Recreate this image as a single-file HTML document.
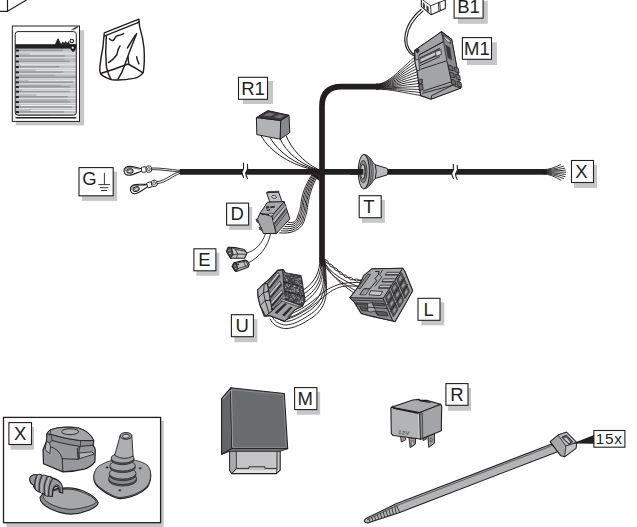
<!DOCTYPE html>
<html><head><meta charset="utf-8"><title>Wiring kit</title>
<style>
html,body{margin:0;padding:0;background:#fff;}
body{width:637px;height:527px;overflow:hidden;font-family:"Liberation Sans",sans-serif;}
svg{display:block;font-family:"Liberation Sans",sans-serif;}
</style></head><body>
<svg width="637" height="527" viewBox="0 0 637 527">
<rect width="637" height="527" fill="#fff"/>
<g fill="none" stroke="#231f20" stroke-width="1.2"><path d="M0 11.3 H7.5 V0 M7.5 11.3 L26.5 0"/></g>
<g fill="none" stroke="#231f20" stroke-linecap="butt"><path d="M179.7 171.85 H545" stroke-width="5.7"/><path d="M322 259 V106 Q322 86.6 341.5 86.6 H378" stroke-width="5.7"/></g>
<path d="M243.60 167.50 L243.60 168.30 Q243.40 169.80 241.90 171.80 Q242.00 174.40 243.20 176.40 L246.90 177.40 Q245.80 175.40 245.70 172.80 Q247.40 170.40 247.60 168.60 L247.60 167.50 Z" fill="#fff"/><path d="M243.50 163.10 L243.60 168.30 Q243.40 169.80 241.90 171.80 Q242.00 174.40 243.70 177.40 M247.45 164.30 L247.60 168.60 Q247.40 170.40 245.70 172.80 Q245.80 175.40 247.40 178.40" fill="none" stroke="#231f20" stroke-width="1.1" stroke-linecap="round"/>
<path d="M453.40 168.60 L453.40 169.40 Q453.20 170.90 451.70 172.90 Q451.80 175.50 453.00 177.50 L456.70 178.50 Q455.60 176.50 455.50 173.90 Q457.20 171.50 457.40 169.70 L457.40 168.60 Z" fill="#fff"/><path d="M453.30 164.20 L453.40 169.40 Q453.20 170.90 451.70 172.90 Q451.80 175.50 453.50 178.50 M457.25 165.40 L457.40 169.70 Q457.20 171.50 455.50 173.90 Q455.60 176.50 457.20 179.50" fill="none" stroke="#231f20" stroke-width="1.1" stroke-linecap="round"/>
<rect x="243.00" y="81.00" width="30.00" height="23.00" fill="#c5c6c8"/><rect x="238.5" y="77.3" width="29" height="22" fill="#fff" stroke="#231f20" stroke-width="1.1"/><text x="253.00" y="94.65" font-size="18.5" text-anchor="middle" fill="#231f20">R1</text>
<rect x="457.80" y="0.80" width="30.00" height="23.00" fill="#c5c6c8"/><rect x="454.1" y="-3.9" width="29" height="22" fill="#fff" stroke="#231f20" stroke-width="1.1"/><text x="468.60" y="13.45" font-size="18.5" text-anchor="middle" fill="#231f20">B1</text>
<rect x="466.90" y="42.30" width="30.10" height="22.70" fill="#c5c6c8"/><rect x="462.4" y="37.6" width="29.1" height="21.7" fill="#fff" stroke="#231f20" stroke-width="1.1"/><text x="476.95" y="54.65" font-size="18.5" text-anchor="middle" fill="#231f20">M1</text>
<rect x="574.00" y="165.00" width="23.00" height="23.00" fill="#c5c6c8"/><rect x="571.5" y="160.5" width="22" height="22" fill="#fff" stroke="#231f20" stroke-width="1.1"/><text x="581.50" y="177.85" font-size="18.5" text-anchor="middle" fill="#231f20">X</text>
<rect x="361.90" y="199.80" width="23.00" height="23.00" fill="#c5c6c8"/><rect x="359.2" y="195.7" width="22" height="22" fill="#fff" stroke="#231f20" stroke-width="1.1"/><text x="369.00" y="213.05" font-size="18.5" text-anchor="middle" fill="#231f20">T</text>
<rect x="229.10" y="206.90" width="23.00" height="23.00" fill="#c5c6c8"/><rect x="226.6" y="203.1" width="22" height="22" fill="#fff" stroke="#231f20" stroke-width="1.1"/><text x="237.30" y="220.45" font-size="18.5" text-anchor="middle" fill="#231f20">D</text>
<rect x="196.40" y="252.80" width="23.00" height="23.00" fill="#c5c6c8"/><rect x="193.9" y="248.8" width="22" height="22" fill="#fff" stroke="#231f20" stroke-width="1.1"/><text x="204.30" y="266.15" font-size="18.5" text-anchor="middle" fill="#231f20">E</text>
<rect x="234.40" y="319.20" width="23.00" height="23.00" fill="#c5c6c8"/><rect x="231.4" y="314.7" width="22" height="22" fill="#fff" stroke="#231f20" stroke-width="1.1"/><text x="242.10" y="332.05" font-size="18.5" text-anchor="middle" fill="#231f20">U</text>
<rect x="421.30" y="302.30" width="23.00" height="23.00" fill="#c5c6c8"/><rect x="418" y="298.3" width="22" height="22" fill="#fff" stroke="#231f20" stroke-width="1.1"/><text x="428.60" y="315.65" font-size="18.5" text-anchor="middle" fill="#231f20">L</text>
<rect x="296.80" y="391.70" width="23.30" height="23.00" fill="#c5c6c8"/><rect x="294.6" y="387.6" width="22.3" height="22" fill="#fff" stroke="#231f20" stroke-width="1.1"/><text x="305.10" y="404.95" font-size="18.5" text-anchor="middle" fill="#231f20">M</text>
<rect x="447.90" y="388.00" width="23.10" height="22.70" fill="#c5c6c8"/><rect x="445.9" y="383.6" width="22.1" height="21.7" fill="#fff" stroke="#231f20" stroke-width="1.1"/><text x="456.95" y="400.65" font-size="18.5" text-anchor="middle" fill="#231f20">R</text>
<rect x="81.90" y="171.70" width="35.20" height="29.20" fill="#c5c6c8"/><rect x="79" y="167.6" width="34.2" height="28.2" fill="#fff" stroke="#231f20" stroke-width="1.1"/><text x="89.40" y="184.60" font-size="18.5" text-anchor="middle" fill="#231f20">G</text><g stroke="#3b393a" stroke-width="1" fill="none"><path d="M104.4 172.9 V184.6 M98.3 184.6 H110 M100 187.7 H108.3 M101.2 190.5 H107.1"/></g>
<rect x="6.5" y="421" width="157.2" height="106" fill="#c5c6c8"/>
<rect x="3.5" y="417.4" width="157.1" height="105.3" fill="#fff" stroke="#231f20" stroke-width="1.3"/>
<rect x="10.50" y="426.80" width="23.60" height="22.90" fill="#c5c6c8"/><rect x="8.9" y="422.6" width="22.6" height="21.9" fill="#fff" stroke="#231f20" stroke-width="1.1"/><text x="20.20" y="439.85" font-size="18.5" text-anchor="middle" fill="#231f20">X</text>
<rect x="15.8" y="30.3" width="68.3" height="95.1" fill="#c5c6c8"/>
<rect x="12.3" y="26" width="67.2" height="95.4" fill="#fff" stroke="#231f20" stroke-width="1"/>
<clipPath id="dc"><rect x="15.2" y="31.6" width="61.1" height="83.6" rx="2.8"/></clipPath><g clip-path="url(#dc)"><rect x="15.6" y="48" width="60.4" height="68" fill="#bdbec0"/><rect x="19" y="49.70" width="44.0" height="1.5" fill="#97989a"/><rect x="19" y="51.70" width="57.5" height="0.9" fill="#e6e7e8"/><rect x="29.9" y="53.50" width="60" height="1" fill="#f2f2f2"/><rect x="15.6" y="49.60" width="3.4" height="2" rx="0.9" fill="#231f20"/><rect x="19" y="55.20" width="46.3" height="1.5" fill="#97989a"/><rect x="19" y="57.20" width="57.5" height="0.9" fill="#e6e7e8"/><rect x="19" y="58.70" width="45.1" height="1.2" fill="#a6a7a9"/><rect x="15.6" y="55.10" width="3.4" height="2" rx="0.9" fill="#231f20"/><rect x="19" y="60.60" width="50.6" height="1.5" fill="#97989a"/><rect x="19" y="62.60" width="57.5" height="0.9" fill="#e6e7e8"/><rect x="20.3" y="64.40" width="60" height="1" fill="#f2f2f2"/><rect x="15.6" y="60.50" width="3.4" height="2" rx="0.9" fill="#231f20"/><rect x="19" y="66.00" width="40.2" height="1.5" fill="#97989a"/><rect x="19" y="68.00" width="57.5" height="0.9" fill="#e6e7e8"/><rect x="35.7" y="69.80" width="60" height="1" fill="#f2f2f2"/><rect x="15.6" y="65.90" width="3.4" height="2" rx="0.9" fill="#231f20"/><rect x="19" y="71.30" width="44.4" height="1.5" fill="#97989a"/><rect x="19" y="73.30" width="57.5" height="0.9" fill="#e6e7e8"/><rect x="19" y="74.80" width="35.9" height="1.2" fill="#a6a7a9"/><rect x="15.6" y="71.20" width="3.4" height="2" rx="0.9" fill="#231f20"/><rect x="19" y="76.50" width="56.9" height="1.5" fill="#97989a"/><rect x="19" y="78.50" width="57.5" height="0.9" fill="#e6e7e8"/><rect x="28.4" y="80.30" width="60" height="1" fill="#f2f2f2"/><rect x="15.6" y="76.40" width="3.4" height="2" rx="0.9" fill="#231f20"/><rect x="19" y="81.40" width="54.2" height="1.5" fill="#97989a"/><rect x="19" y="83.40" width="57.5" height="0.9" fill="#e6e7e8"/><rect x="19" y="84.90" width="41.9" height="1.2" fill="#a6a7a9"/><rect x="15.6" y="81.30" width="3.4" height="2" rx="0.9" fill="#231f20"/><rect x="19" y="86.00" width="50.9" height="1.5" fill="#97989a"/><rect x="19" y="88.00" width="57.5" height="0.9" fill="#e6e7e8"/><rect x="22.0" y="89.80" width="60" height="1" fill="#f2f2f2"/><rect x="15.6" y="85.90" width="3.4" height="2" rx="0.9" fill="#231f20"/><rect x="19" y="90.80" width="50.8" height="1.5" fill="#97989a"/><rect x="19" y="92.80" width="57.5" height="0.9" fill="#e6e7e8"/><rect x="36.4" y="94.60" width="60" height="1" fill="#f2f2f2"/><rect x="15.6" y="90.70" width="3.4" height="2" rx="0.9" fill="#231f20"/><rect x="19" y="96.00" width="48.9" height="1.5" fill="#97989a"/><rect x="19" y="98.00" width="57.5" height="0.9" fill="#e6e7e8"/><rect x="19" y="99.50" width="48.5" height="1.2" fill="#a6a7a9"/><rect x="15.6" y="95.90" width="3.4" height="2" rx="0.9" fill="#231f20"/><rect x="19" y="101.20" width="51.4" height="1.5" fill="#97989a"/><rect x="19" y="103.20" width="57.5" height="0.9" fill="#e6e7e8"/><rect x="20.3" y="105.00" width="60" height="1" fill="#f2f2f2"/><rect x="15.6" y="101.10" width="3.4" height="2" rx="0.9" fill="#231f20"/><rect x="19" y="106.20" width="52.9" height="1.5" fill="#97989a"/><rect x="19" y="108.20" width="57.5" height="0.9" fill="#e6e7e8"/><rect x="30.8" y="110.00" width="60" height="1" fill="#f2f2f2"/><rect x="15.6" y="106.10" width="3.4" height="2" rx="0.9" fill="#231f20"/><rect x="19" y="111.15" width="45.1" height="1.5" fill="#97989a"/><rect x="19" y="113.15" width="57.5" height="0.9" fill="#e6e7e8"/><rect x="19" y="114.65" width="30.8" height="1.2" fill="#a6a7a9"/><rect x="15.6" y="111.05" width="3.4" height="2" rx="0.9" fill="#231f20"/></g><rect x="15.2" y="44.2" width="61.1" height="4.4" fill="#231f20"/><rect x="15.2" y="31.6" width="61.1" height="83.6" rx="2.8" fill="none" stroke="#231f20" stroke-width="1"/><path d="M15.5 117.8 H76.3" stroke="#231f20" stroke-width="1.5"/><g fill="#231f20" stroke="#231f20" stroke-width="0.6" stroke-linejoin="round"><path d="M55.2 45 L58 38.8 L61 45 Z" stroke-width="1"/><path d="M49 45.5 H62" stroke-width="1"/><path d="M61.5 44.6 L62.8 42.2 L64.2 44.6 L65.6 41.8 L67 44.8 L68.6 42 L69.4 44.8" fill="none" stroke-width="1.2"/><circle cx="71.8" cy="41" r="1.7" fill="#fff" stroke-width="1.1"/><path d="M67.5 44.6 L75 44.6 L75.2 49.5 Q74.5 52 72.5 51.4 L70.2 48 Z"/><circle cx="72.7" cy="47.7" r="1" fill="#fff" stroke="none"/></g><path d="M71.5 29.8 L77.3 26.6 L77.6 27.6 L73.8 29.6 Z" fill="#231f20" stroke="#231f20" stroke-width="0.4"/>
<g fill="none" stroke="#231f20" stroke-width="1.45" stroke-linejoin="round" stroke-linecap="round"><path d="M104.3 32.9 L138.9 19.2 L139.6 26.4 Q143 38 144 48 Q145 62 143.2 72.6 Q140 77 133.8 78.4 Q122 80.6 112.2 79.8 Q104 77.5 100.7 74 Q99.2 71 99.9 66.8 Q101 56 102.8 48 Z" fill="#fff"/><path d="M104.8 35.9 L139.3 22.2"/><path d="M106.4 35.8 Q105 52 106.4 66.8 Q108 74 110.8 79.1"/><path d="M101.4 73.3 Q114 69.5 128 64 Q136 68 142.5 72.6"/><path d="M136.7 33.6 Q130 50 124.5 65.4 Q122 73 118 79.1"/><path d="M135.3 35.1 L127.4 48"/><path d="M109.3 38.7 Q112 41.5 113.6 40.1 Q115.5 36.5 117.3 35.8 Q121 35 123.7 33.6"/><path d="M120.1 45.9 Q118 49 117.5 52 Q117.2 54 116.5 55.3 Q113 60 108.6 62.5"/><path d="M136.7 56.7 Q137 60 138.9 63.9 M128.1 56.7 Q128 60 128.8 63.2"/></g>
<g fill="none" stroke="#231f20" stroke-width="0.9"><path d="M151.5 168 C160 167.8 170 169.2 180 170.4"/><path d="M151.5 169.6 C160 169.6 170 171 180 172"/><path d="M156.5 181.8 C166 180.5 172 173.5 180 171.6"/><path d="M157 183.6 C167 182.5 173 175.5 180 173.4"/></g>
<g transform="translate(129.6 170.8) rotate(-5)"><path d="M-5.6 0 C-5.6 -3.6 -2.5 -4.6 0.5 -4.4 C4 -4.1 8 -2.2 12.3 -1.2 L12.3 1.2 C8 2.2 4 4.1 0.5 4.4 C-2.5 4.6 -5.6 3.6 -5.6 0 Z" fill="#fff" stroke="#231f20" stroke-width="1.1"/><path d="M-4.4 0 C-4.4 -2.8 -2 -3.5 0.5 -3.3 C3.5 -3 7 -1.4 10.5 -0.6" fill="none" stroke="#231f20" stroke-width="0.6"/><ellipse cx="0.3" cy="0.2" rx="3.2" ry="2.3" fill="#fff" stroke="#231f20" stroke-width="1"/><ellipse cx="0.6" cy="0.4" rx="2.3" ry="1.5" fill="#d9dadb" stroke="#231f20" stroke-width="0.6"/><rect x="12" y="-2.6" width="4.6" height="5.2" rx="0.8" fill="#fff" stroke="#231f20" stroke-width="0.9"/><rect x="16.6" y="-3.1" width="5.4" height="6.2" rx="2" fill="#fff" stroke="#231f20" stroke-width="0.9"/><circle cx="19.2" cy="0" r="1.5" fill="#d9dadb" stroke="#231f20" stroke-width="0.6"/></g>
<g transform="translate(135.8 189) rotate(-17)"><path d="M-5.6 0 C-5.6 -3.6 -2.5 -4.6 0.5 -4.4 C4 -4.1 8 -2.2 12.3 -1.2 L12.3 1.2 C8 2.2 4 4.1 0.5 4.4 C-2.5 4.6 -5.6 3.6 -5.6 0 Z" fill="#fff" stroke="#231f20" stroke-width="1.1"/><path d="M-4.4 0 C-4.4 -2.8 -2 -3.5 0.5 -3.3 C3.5 -3 7 -1.4 10.5 -0.6" fill="none" stroke="#231f20" stroke-width="0.6"/><ellipse cx="0.3" cy="0.2" rx="3.2" ry="2.3" fill="#fff" stroke="#231f20" stroke-width="1"/><ellipse cx="0.6" cy="0.4" rx="2.3" ry="1.5" fill="#d9dadb" stroke="#231f20" stroke-width="0.6"/><rect x="12" y="-2.6" width="4.6" height="5.2" rx="0.8" fill="#fff" stroke="#231f20" stroke-width="0.9"/><rect x="16.6" y="-3.1" width="5.4" height="6.2" rx="2" fill="#fff" stroke="#231f20" stroke-width="0.9"/><circle cx="19.2" cy="0" r="1.5" fill="#d9dadb" stroke="#231f20" stroke-width="0.6"/></g>
<g fill="none" stroke="#231f20" stroke-width="0.9" stroke-linecap="round"><path d="M544 169.60 Q551 169.60 560.5 164.6"/><path d="M544 170.16 Q551 170.16 563.5 166.2"/><path d="M544 170.72 Q551 170.72 564.8 168.2"/><path d="M544 171.28 Q551 171.28 565.4 170.2"/><path d="M544 171.84 Q551 171.84 565.6 172.2"/><path d="M544 172.40 Q551 172.40 565.4 174.4"/><path d="M544 172.96 Q551 172.96 565 176.6"/><path d="M544 173.52 Q551 173.52 563.6 178.6"/><path d="M544 174.08 Q551 174.08 561 180.2"/></g>
<path d="M544.5 169 L547.5 170.3 L547.5 173.4 L544.5 174.7 Z" fill="#231f20"/>
<g stroke="#231f20" stroke-width="1" stroke-linejoin="round"><path d="M363.8 154.3 C368.5 154.8 371.5 160 373.2 162.7 L375.3 164.8 L387.2 168.4 Q388.9 171.6 387.2 174.9 L375.3 178.4 L373.2 180.5 C371.5 183.5 368.5 188.2 363.8 188.8 Z" fill="#b9babc"/><path d="M366.6 155.6 C370.2 162 370.2 181 366.6 187.5 M368.8 157.2 C372 163 372 180 368.8 186 M371 159.5 C373.7 165 373.7 178 371 183.6" fill="none" stroke="#58595b" stroke-width="1.3"/><path d="M375.3 164.8 Q377.2 171.6 375.3 178.4" fill="none" stroke-width="1"/><ellipse cx="363.8" cy="171.6" rx="5.6" ry="17.2" fill="#b9babc"/><ellipse cx="363.3" cy="171.6" rx="3.7" ry="11.2" fill="#8a8b8e" stroke-width="0.8"/><ellipse cx="362.9" cy="171.6" rx="2.3" ry="7.4" fill="#c8c9cb" stroke-width="0.8"/></g>
<path d="M350 171.85 H363.4" stroke="#231f20" stroke-width="5.7"/>
<path d="M363.2 164.3 A2.3 7.4 0 0 1 363.2 178.9" fill="none" stroke="#231f20" stroke-width="0.8"/>
<g fill="none" stroke="#231f20" stroke-width="0.9"><path d="M376 84.2 C389.0 84.2 401.0 68.1 415.5 56.5"/><path d="M376 84.6 C389.2 84.6 401.2 70.0 415.9 59.5"/><path d="M376 85.0 C389.5 85.0 401.3 71.9 416.3 62.5"/><path d="M376 85.3 C389.7 85.3 401.5 73.8 416.8 65.5"/><path d="M376 85.7 C389.9 85.7 401.6 75.7 417.2 68.5"/><path d="M376 86.1 C390.2 86.1 401.8 77.6 417.6 71.5"/><path d="M376 86.5 C390.4 86.5 401.9 79.5 418.0 74.5"/><path d="M376 86.8 C390.6 86.8 402.1 81.4 418.5 77.5"/><path d="M376 87.2 C390.8 87.2 402.2 83.3 418.9 80.5"/><path d="M376 87.6 C391.1 87.6 402.4 85.2 419.3 83.5"/><path d="M376 88.0 C391.3 88.0 402.5 87.1 419.7 86.5"/><path d="M376 88.3 C391.5 88.3 402.7 89.0 420.2 89.5"/><path d="M376 88.7 C391.8 88.7 402.8 90.9 420.6 92.5"/><path d="M376 89.1 C392.0 89.1 403.0 92.8 421.0 95.5"/></g>
<path d="M376 83.75 H378 L384 86.6 L378 89.45 H376 Z" fill="#231f20"/>
<g fill="none" stroke="#231f20" stroke-width="1.1"><path d="M415.5 56.5 C408 54 404.3 46 404.8 38 C405.5 27 412 17 421.5 9"/><path d="M417 55.5 C410 53 406.3 46 406.8 38.5 C407.5 28 414 18.5 423.3 10.6"/></g>
<path d="M441.3 31.6 L451.7 39.6 L460.6 88.2 L431.0 99.3 L420.6 95.6 L416.9 70.4 L414.7 60.1 L414.7 50.4 L438.4 34.1 Z" fill="#a3a4a6" stroke="#231f20" stroke-width="1.2" stroke-linejoin="round"/><path d="M441.3 31.9 L451.7 39.6 L460.6 88.2 L452.4 85.3 L446.8 60.8 L443.6 41.6 Z" fill="#8a8b8e" stroke="#231f20" stroke-width="0.8" stroke-linejoin="round"/><path d="M445.3 44.5 L450.1 47.6 L452.1 60.4 L447.7 57.7 Z" fill="#3b393a"/><path d="M443.6 34.9 L450.2 40.1 L450.5 43.5 L444.0 38.4 Z" fill="#9d9ea0" stroke="#231f20" stroke-width="0.7"/><path d="M445.3 37.9 L449.2 40.8 L449.3 42.3 L445.5 39.3 Z" fill="#e3e4e5"/><path d="M448.3 64.8 L452.4 66.3 L453.2 71.0 L449.0 69.6 Z" fill="#6d6e71" stroke="#231f20" stroke-width="0.8"/><path d="M454.2 66.9 L458.4 68.4 L459.1 73.1 L455.0 71.6 Z" fill="#6d6e71" stroke="#231f20" stroke-width="0.8"/><path d="M449.6 71.9 L453.8 73.4 L454.5 78.1 L450.4 76.7 Z" fill="#6d6e71" stroke="#231f20" stroke-width="0.8"/><path d="M455.6 74.0 L459.7 75.5 L460.4 80.2 L456.3 78.7 Z" fill="#6d6e71" stroke="#231f20" stroke-width="0.8"/><path d="M451.0 79.0 L455.1 80.5 L455.9 85.3 L451.7 83.8 Z" fill="#6d6e71" stroke="#231f20" stroke-width="0.8"/><path d="M456.9 81.1 L461.0 82.6 L461.8 87.3 L457.6 85.9 Z" fill="#6d6e71" stroke="#231f20" stroke-width="0.8"/><path d="M414.7 50.4 L441.3 31.9 L443.6 41.6 L419.1 54.9 L418.4 63.0 L415.4 61.6 Z" fill="#a1a2a4" stroke="#231f20" stroke-width="0.8" stroke-linejoin="round"/><path d="M419.1 54.9 L443.6 41.6 M419.9 57.9 L439.9 48.2 M419.6 63.3 L440.3 53.9 M419.9 65.7 L439.9 56.5 M420.6 69.3 L446.8 60.8" fill="none" stroke="#231f20" stroke-width="0.9"/><path d="M419.9 58.9 L439.4 49.7 L439.7 53.6 L420.1 62.7 Z" fill="#c4c5c7" stroke="#231f20" stroke-width="0.7"/><path d="M435.4 51.5 L440.9 49.7 L441.5 54.4 L436.1 56.4 Z" fill="#d0d1d3" stroke="#231f20" stroke-width="0.8"/><path d="M422.8 91.2 L452.4 81.6 M422.1 93.4 L452.4 85.3 M431.0 99.3 L431.7 95.6 L452.4 85.3" fill="none" stroke="#231f20" stroke-width="0.9"/><path d="M414.7 60.1 L418.7 59.3 L419.6 70.4 L416.9 70.4 Z" fill="#c4c5c7" stroke="#231f20" stroke-width="0.8"/><path d="M418.4 80.1 L422.1 79.0 L422.5 83.0 L419.0 84.1 Z M418.7 85.3 L422.5 84.1 L423.1 89.4 L419.6 90.6 Z" fill="#6d6e71" stroke="#231f20" stroke-width="0.8"/><path d="M414.7 50.4 L418.4 48.2 L419.6 51.5 L417.2 53.4 Z" fill="#2e2b2c"/>
<path d="M421.3 -1.4 L421.3 6.4 L431.2 14.8 L445.3 8.5 L445.3 -1.4 Z" fill="#fff" stroke="#231f20" stroke-width="1.1" stroke-linejoin="round"/><path d="M431.2 14.8 L430.5 5.7 L445.3 0.0 M430.5 5.7 L422.0 -0.7 M439.0 11.3 L438.3 2.5 M440.4 10.7 L439.7 2.0" fill="none" stroke="#231f20" stroke-width="0.9"/><path d="M422.7 2.1 L424.8 4.0 L425.1 8.8 L423.0 7.1 Z M426.2 5.1 L428.7 7.1 L428.9 12.0 L426.7 10.2 Z" fill="#3b393a"/>
<g fill="none" stroke="#231f20" stroke-width="1"><path d="M260.9 135.5 C270 152 292 166 316.5 170.2"/><path d="M270 137.5 C278 152 296 165 316.8 169.8"/><path d="M279.9 138.5 C286 152 300 164 317.2 169.5"/><path d="M286.2 135.8 C291 148 303 162 317.8 169.2"/></g>
<path d="M303 169.2 L320 169.2 L320 172 Z" fill="#231f20"/>
<path d="M256.4 117.5 L280.7 120.5 L280.2 139.2 L256.8 134.6 Z" fill="#b1b2b4" stroke="#231f20" stroke-width="1" stroke-linejoin="round"/><path d="M280.7 120.5 L289.0 115.2 L289.8 132.6 L280.2 139.2 Z" fill="#87888b" stroke="#231f20" stroke-width="1" stroke-linejoin="round"/><path d="M256.4 117.5 L267.8 110.6 L289.0 115.2 L280.7 120.5 Z" fill="#3b393a" stroke="#231f20" stroke-width="1" stroke-linejoin="round"/><path d="M263.2 115.2 L269.3 112.4 L275.3 113.7 L270.0 116.4 Z M273.8 117.0 L279.1 114.4 L284.8 115.6 L280.2 118.5 Z" fill="#6d6e71"/>
<g fill="none" stroke="#231f20" stroke-width="1"><path d="M312.3 174 C307.8 181 302.7 190.6 301.2 201.6 C300.4 209.6 299.5 210.5 298.5 213.5 C296.5 220.5 295.9 223.7 287.9 222.2"/><path d="M313.6 174 C309.1 181 304.0 191.2 302.5 202.2 C301.7 210.2 300.8 211.3 299.8 214.3 C297.8 222.5 294.8 225.8 286.2 224.3"/><path d="M314.9 174 C310.4 181 305.3 191.8 303.8 202.8 C303.0 210.8 302.1 212.1 301.1 215.1 C299.1 224.5 293.7 227.9 284.5 226.4"/><path d="M316.1 174 C311.6 181 306.7 192.4 305.2 203.4 C304.4 211.4 303.5 212.9 302.5 215.9 C300.5 226.5 292.5 230.1 282.7 228.6"/><path d="M317.4 174 C312.9 181 308.0 193.0 306.5 204.0 C305.7 212.0 304.8 213.7 303.8 216.7 C301.8 228.5 291.4 232.2 281.0 230.7"/><path d="M318.7 174 C314.2 181 309.3 193.6 307.8 204.6 C307.0 212.6 306.1 214.5 305.1 217.5 C303.1 230.5 290.3 234.3 279.3 232.8"/></g>
<path d="M319.5 174.5 L311 174.5 L319.5 181 Z" fill="#231f20"/>
<g fill="none" stroke="#231f20" stroke-width="0.9"><path d="M265.8 233 C262 244 255 251 246 253.2"/><path d="M270.8 233 C268 247 259 258 247.5 263.2"/></g>
<path d="M266.6 192.7 L278.6 192.1 L282.2 202.0 L269.9 202.2 Z" fill="#c2c3c5" stroke="#231f20" stroke-width="1" stroke-linejoin="round"/><path d="M266.6 192.7 L267.9 191.6 L279.0 191.2 L278.6 192.1 Z" fill="#6d6e71" stroke="#231f20" stroke-width="0.7" stroke-linejoin="round"/><ellipse cx="274.1" cy="196.9" rx="2.4" ry="1.4" transform="rotate(12 274.1 196.9)" fill="#e6e7e8" stroke="#231f20" stroke-width="0.8"/><path d="M257.3 219.5 L260.0 213.3 L271.9 215.9 L276.3 233.5 L263.3 233.5 L261.3 228.2 Z" fill="#a6a7a9" stroke="#231f20" stroke-width="1" stroke-linejoin="round"/><path d="M271.9 215.9 L284.2 201.6 L289.9 218.9 L276.3 233.5 Z" fill="#97989b" stroke="#231f20" stroke-width="1" stroke-linejoin="round"/><path d="M272.9 219.9 L285.2 205.3 L286.1 208.2 L273.9 223.5 Z" fill="#b9babc"/><path d="M273.9 223.5 L286.1 208.2 L286.8 210.1 L274.5 225.5 Z" fill="#58595b"/><path d="M272.9 219.9 L285.2 205.3 M273.9 223.5 L286.1 208.2 M275.0 227.5 L287.3 211.5" fill="none" stroke="#231f20" stroke-width="0.7"/><path d="M260.0 213.3 L267.5 202.2 L284.2 201.6 L271.9 215.9 Z" fill="#a9aaac" stroke="#231f20" stroke-width="1" stroke-linejoin="round"/><path d="M265.7 206.9 L268.6 205.8 L269.4 207.7 L266.5 208.9 Z M269.9 206.6 L274.6 205.8 L275.0 207.4 L270.5 208.2 Z M266.6 209.8 L269.9 209.0 L270.2 210.6 L267.0 211.1 Z M260.9 213.5 L268.6 213.8 L269.9 215.1 L262.0 214.9 Z" fill="#2e2b2c"/><ellipse cx="271.0" cy="214.6" rx="2.3" ry="1.5" fill="#c7c8ca" stroke="#231f20" stroke-width="0.7"/><path d="M257.3 219.5 L256.0 218.9 L256.6 221.5 L258.2 222.8 Z M261.3 228.2 L259.3 227.1 L259.6 229.5 L262.0 230.5 Z" fill="#58595b" stroke="#231f20" stroke-width="0.7"/>
<path d="M226.5 251.4 L228.3 247.2 L235.2 247.6 L244.3 249.5 L246.9 253.3 L244.7 258.2 L236.3 258.2 L230.6 258.2 Z" fill="#c3c4c6" stroke="#231f20" stroke-width="1.1" stroke-linejoin="round"/><path d="M226.5 251.4 L228.3 247.2 L231.4 247.6 L233.3 254.8 L230.6 258.2 Z" fill="#4a4a4c" stroke="#231f20" stroke-width="0.8" stroke-linejoin="round"/><path d="M228.2 249.9 L230.2 249.7 L230.5 250.6 L228.3 250.9 Z M228.7 252.9 L231.0 252.8 L231.2 253.8 L229.1 254.0 Z" fill="#c3c4c6"/><path d="M231.4 247.6 L235.2 249.1 L245.0 251.4 M233.3 254.8 L237.8 254.0 L246.2 254.4 M237.8 254.0 L236.3 258.2 M235.2 249.1 L237.8 254.0" fill="none" stroke="#231f20" stroke-width="0.8"/><path d="M232.1 266.2 L234.0 262.8 L245.0 260.1 L247.3 260.9 L249.2 264.3 L248.1 267.3 L236.3 271.5 L234.8 270.7 Z" fill="#c3c4c6" stroke="#231f20" stroke-width="1.1" stroke-linejoin="round"/><path d="M232.1 266.2 L234.0 262.8 L236.3 263.1 L237.8 268.5 L236.3 271.5 L234.8 270.7 Z" fill="#3f3f41" stroke="#231f20" stroke-width="0.8" stroke-linejoin="round"/><path d="M234.0 265.4 L235.6 265.0 L235.9 266.2 L234.4 266.6 Z M234.8 267.9 L236.3 267.5 L236.7 268.5 L235.2 269.0 Z" fill="#c3c4c6"/><path d="M236.3 263.1 L245.8 261.3 M237.8 268.5 L248.5 265.4 M243.5 260.5 L245.4 266.2 M246.2 260.6 L247.9 265.4" fill="none" stroke="#231f20" stroke-width="0.8"/><circle cx="238.1" cy="264.4" r="0.9" fill="#231f20"/>
<g fill="none" stroke="#231f20" stroke-width="0.95" stroke-linecap="round"><path d="M320.0 258.9 C320.0 271.0 315.8 282.3 302.9 290.3"/><path d="M321.0 258.9 C321.3 274.2 317.4 285.5 303.7 293.9"/><path d="M321.9 258.9 C322.7 277.4 319.0 288.7 304.5 298.1"/><path d="M322.7 258.9 C324.2 280.6 320.6 291.9 299.7 305.6"/><path d="M323.4 258.9 C324.2 285.5 324.7 296.8 304.5 309.7 C296.5 314.8 290.0 318.4 285.2 317.7 C281.1 317.1 278.7 315.3 277.7 312.9"/><path d="M323.9 258.9 C325.2 287.1 326.8 300.0 306.1 312.9 C297.3 318.5 290.0 322.1 284.4 321.3 C279.5 320.3 276.3 318.1 275.2 314.8"/><path d="M324.4 258.9 C326.1 288.7 328.7 303.2 307.7 316.1 C298.1 322.3 290.0 325.8 283.5 324.8 C277.9 323.5 273.9 321.0 272.6 316.9"/><path d="M324.7 259.7 C327.1 290.3 330.6 306.5 309.4 319.4 C299.7 325.8 290.0 329.4 283.5 328.4 C277.1 327.1 272.3 324.2 270.3 319.0"/><path d="M286.8 315.3 C309.4 308.1 319.0 293.5 330.3 287.9 S348.1 282.7 361.0 282.3"/><path d="M286.8 319.4 C311.0 311.3 322.3 296.0 332.7 290.3 S348.1 285.8 359.4 286.5"/><path d="M324.2 261.3 C328.7 272.6 338.4 283.1 358.5 296.0"/><path d="M323.9 263.7 C328.7 274.2 340.0 281.5 356.9 291.6"/><path d="M324.5 262.9 C330.3 272.6 343.2 281.5 359.4 286.8"/><path d="M324.5 260.0 Q325.1 263.3 328.7 263.7 Q332.5 263.8 333.5 267.4 Q334.6 271.1 338.4 271.3 Q342.1 271.2 343.2 274.8 Q344.5 278.2 348.1 277.7 Q351.6 276.6 353.7 279.7 Q356.5 282.2 359.7 280.3 Q362.9 278.2 365.8 280.6 "/><path d="M325.2 259.4 Q328.4 260.1 328.7 263.7 Q329.8 267.4 333.5 267.4 Q337.4 267.6 338.4 271.3 Q339.5 274.9 343.2 274.8 Q346.8 274.4 348.1 277.7 Q350.2 280.8 353.7 279.7 Q356.9 277.8 359.7 280.3 Q362.6 282.7 365.8 280.6 "/></g>
<path d="M319.2 258 H324.8 L324.6 262 L321.5 268 L319.4 262 Z" fill="#231f20"/>
<path d="M257.6 290.1 L264.3 283.4 L268.6 279.8 L277.7 270.1 L283.2 269.5 L285.6 273.1 L300.8 275.5 L302.0 281.0 L305.0 300.5 L302.6 305.9 L294.1 310.2 L289.2 317.5 L284.4 321.1 L269.8 315.6 L264.3 316.2 L260.1 305.3 L258.3 298.0 Z" fill="#8e8f92" stroke="#231f20" stroke-width="1.2" stroke-linejoin="round"/><path d="M281.7 271.5 L300.8 275.5 L302.0 281.0 L305.0 300.5 L302.6 305.9 L285.3 300.5 L283.5 288.3 Z" fill="#414042"/><g fill="#8a8b8e"><circle cx="292.6" cy="290.9" r="0.81"/><circle cx="293.8" cy="291.8" r="0.44"/><circle cx="296.5" cy="298.5" r="0.40"/><circle cx="297.0" cy="292.7" r="0.43"/><circle cx="286.8" cy="280.4" r="0.37"/><circle cx="292.3" cy="300.1" r="0.61"/><circle cx="293.6" cy="294.2" r="0.58"/><circle cx="301.1" cy="295.7" r="0.51"/><circle cx="289.0" cy="274.8" r="0.73"/><circle cx="299.7" cy="281.4" r="0.39"/><circle cx="285.3" cy="280.6" r="0.40"/><circle cx="300.1" cy="278.3" r="0.63"/><circle cx="286.8" cy="296.5" r="0.42"/><circle cx="285.2" cy="286.3" r="0.46"/><circle cx="287.3" cy="285.4" r="0.78"/><circle cx="287.3" cy="281.0" r="0.74"/><circle cx="289.2" cy="274.9" r="0.40"/><circle cx="288.0" cy="292.2" r="0.54"/><circle cx="295.2" cy="300.9" r="0.44"/><circle cx="302.5" cy="299.3" r="0.47"/><circle cx="302.0" cy="292.3" r="0.56"/><circle cx="295.7" cy="282.1" r="0.44"/><circle cx="296.1" cy="281.7" r="0.81"/><circle cx="286.5" cy="284.6" r="0.64"/><circle cx="297.8" cy="291.7" r="0.42"/><circle cx="298.8" cy="302.0" r="0.72"/><circle cx="300.0" cy="302.5" r="0.53"/><circle cx="301.6" cy="291.3" r="0.66"/><circle cx="295.4" cy="292.5" r="0.39"/><circle cx="298.6" cy="285.2" r="0.72"/><circle cx="293.2" cy="280.1" r="0.70"/><circle cx="296.1" cy="302.7" r="0.48"/><circle cx="289.3" cy="294.8" r="0.45"/><circle cx="289.8" cy="294.4" r="0.45"/><circle cx="300.3" cy="302.5" r="0.79"/><circle cx="295.4" cy="282.9" r="0.42"/><circle cx="288.7" cy="278.1" r="0.58"/><circle cx="287.4" cy="286.1" r="0.66"/><circle cx="289.6" cy="300.0" r="0.84"/><circle cx="284.3" cy="273.5" r="0.79"/><circle cx="285.8" cy="274.0" r="0.66"/><circle cx="297.6" cy="279.0" r="0.59"/><circle cx="298.3" cy="278.4" r="0.49"/><circle cx="291.3" cy="298.5" r="0.80"/><circle cx="294.7" cy="297.7" r="0.59"/><circle cx="285.7" cy="277.4" r="0.61"/><circle cx="301.0" cy="295.1" r="0.82"/><circle cx="287.5" cy="289.8" r="0.50"/><circle cx="296.6" cy="289.7" r="0.77"/><circle cx="295.2" cy="279.1" r="0.62"/><circle cx="291.4" cy="298.8" r="0.63"/><circle cx="288.6" cy="288.0" r="0.41"/><circle cx="300.5" cy="302.0" r="0.59"/><circle cx="286.9" cy="292.8" r="0.81"/><circle cx="286.9" cy="280.0" r="0.69"/><circle cx="290.4" cy="292.8" r="0.40"/><circle cx="285.4" cy="289.3" r="0.48"/><circle cx="294.3" cy="286.8" r="0.54"/><circle cx="294.3" cy="277.7" r="0.45"/><circle cx="296.6" cy="289.9" r="0.78"/><circle cx="298.9" cy="299.1" r="0.80"/><circle cx="287.9" cy="296.3" r="0.48"/><circle cx="300.9" cy="286.3" r="0.74"/><circle cx="291.5" cy="295.0" r="0.36"/><circle cx="297.6" cy="302.4" r="0.83"/><circle cx="293.7" cy="297.4" r="0.60"/><circle cx="286.8" cy="274.8" r="0.40"/><circle cx="294.7" cy="289.4" r="0.63"/><circle cx="292.8" cy="297.6" r="0.51"/><circle cx="293.9" cy="286.6" r="0.65"/><circle cx="298.0" cy="300.2" r="0.44"/><circle cx="298.8" cy="285.8" r="0.45"/><circle cx="296.4" cy="285.8" r="0.65"/><circle cx="299.0" cy="298.0" r="0.76"/><circle cx="299.4" cy="285.8" r="0.71"/><circle cx="290.1" cy="287.9" r="0.36"/><circle cx="297.2" cy="283.6" r="0.68"/><circle cx="294.3" cy="285.3" r="0.85"/><circle cx="298.0" cy="297.5" r="0.84"/><circle cx="296.1" cy="296.7" r="0.48"/><circle cx="283.8" cy="278.9" r="0.54"/><circle cx="294.7" cy="289.2" r="0.83"/><circle cx="286.2" cy="288.0" r="0.43"/><circle cx="294.2" cy="292.1" r="0.53"/><circle cx="297.0" cy="290.9" r="0.49"/><circle cx="292.1" cy="288.2" r="0.84"/><circle cx="295.9" cy="276.3" r="0.66"/><circle cx="287.1" cy="274.2" r="0.61"/><circle cx="292.4" cy="294.4" r="0.58"/><circle cx="295.4" cy="286.3" r="0.74"/><circle cx="299.8" cy="293.0" r="0.53"/><circle cx="297.7" cy="291.0" r="0.65"/><circle cx="302.7" cy="301.3" r="0.37"/><circle cx="288.6" cy="286.5" r="0.66"/><circle cx="294.7" cy="293.2" r="0.54"/><circle cx="284.3" cy="276.4" r="0.75"/><circle cx="299.5" cy="279.5" r="0.56"/><circle cx="284.4" cy="275.2" r="0.63"/><circle cx="297.7" cy="282.3" r="0.74"/><circle cx="287.3" cy="294.2" r="0.39"/><circle cx="298.5" cy="295.3" r="0.49"/><circle cx="290.5" cy="296.3" r="0.53"/><circle cx="300.2" cy="282.5" r="0.51"/><circle cx="303.1" cy="301.9" r="0.47"/><circle cx="290.7" cy="284.4" r="0.55"/><circle cx="286.9" cy="291.0" r="0.75"/><circle cx="294.6" cy="291.1" r="0.83"/><circle cx="294.6" cy="298.4" r="0.39"/><circle cx="298.8" cy="302.0" r="0.39"/><circle cx="285.8" cy="297.0" r="0.67"/><circle cx="291.3" cy="283.6" r="0.83"/><circle cx="293.5" cy="290.1" r="0.71"/><circle cx="300.9" cy="301.7" r="0.83"/><circle cx="294.1" cy="295.8" r="0.75"/><circle cx="290.9" cy="278.0" r="0.45"/><circle cx="299.6" cy="278.4" r="0.38"/><circle cx="295.4" cy="302.3" r="0.37"/><circle cx="286.7" cy="279.6" r="0.47"/><circle cx="295.7" cy="279.9" r="0.44"/><circle cx="286.4" cy="297.4" r="0.51"/><circle cx="300.2" cy="285.1" r="0.61"/><circle cx="297.1" cy="280.3" r="0.36"/><circle cx="290.8" cy="298.6" r="0.71"/><circle cx="286.1" cy="277.7" r="0.51"/><circle cx="301.2" cy="299.5" r="0.39"/><circle cx="293.2" cy="287.9" r="0.83"/><circle cx="299.9" cy="286.2" r="0.81"/><circle cx="289.5" cy="282.7" r="0.39"/><circle cx="292.9" cy="296.0" r="0.53"/><circle cx="300.8" cy="294.0" r="0.36"/><circle cx="298.2" cy="280.3" r="0.63"/><circle cx="300.2" cy="279.3" r="0.66"/><circle cx="290.9" cy="290.2" r="0.50"/><circle cx="291.3" cy="294.4" r="0.48"/><circle cx="298.7" cy="283.3" r="0.82"/></g><g fill="#c7c8ca"><circle cx="301.2" cy="285.2" r="0.66"/><circle cx="298.8" cy="303.4" r="0.36"/><circle cx="287.9" cy="295.6" r="0.38"/><circle cx="284.2" cy="280.0" r="0.50"/><circle cx="293.2" cy="296.5" r="0.41"/><circle cx="302.4" cy="301.1" r="0.45"/><circle cx="292.3" cy="300.0" r="0.31"/><circle cx="302.5" cy="294.2" r="0.46"/><circle cx="301.0" cy="300.3" r="0.56"/><circle cx="298.2" cy="291.2" r="0.40"/><circle cx="296.5" cy="294.0" r="0.60"/><circle cx="297.9" cy="289.6" r="0.53"/><circle cx="285.5" cy="287.4" r="0.53"/><circle cx="290.9" cy="291.2" r="0.63"/><circle cx="296.9" cy="279.2" r="0.57"/><circle cx="296.7" cy="296.0" r="0.37"/><circle cx="294.4" cy="298.4" r="0.41"/><circle cx="300.2" cy="278.2" r="0.41"/><circle cx="289.5" cy="285.0" r="0.62"/><circle cx="294.5" cy="286.1" r="0.66"/><circle cx="286.7" cy="279.2" r="0.62"/><circle cx="302.2" cy="298.8" r="0.56"/><circle cx="302.3" cy="301.4" r="0.56"/><circle cx="296.6" cy="293.0" r="0.37"/><circle cx="295.7" cy="297.4" r="0.30"/><circle cx="288.0" cy="273.9" r="0.34"/><circle cx="298.5" cy="287.9" r="0.67"/><circle cx="298.7" cy="280.3" r="0.33"/><circle cx="299.2" cy="278.7" r="0.38"/><circle cx="287.3" cy="283.8" r="0.58"/><circle cx="300.4" cy="284.6" r="0.54"/><circle cx="289.8" cy="290.5" r="0.58"/><circle cx="292.0" cy="284.6" r="0.32"/><circle cx="298.2" cy="291.2" r="0.65"/><circle cx="301.0" cy="291.0" r="0.35"/><circle cx="287.5" cy="297.6" r="0.49"/><circle cx="300.7" cy="294.4" r="0.62"/><circle cx="291.9" cy="277.3" r="0.58"/><circle cx="300.5" cy="288.2" r="0.38"/><circle cx="293.2" cy="279.8" r="0.30"/><circle cx="301.7" cy="289.4" r="0.53"/><circle cx="288.5" cy="290.0" r="0.34"/><circle cx="294.6" cy="289.8" r="0.34"/><circle cx="285.0" cy="285.4" r="0.46"/></g><path d="M283.8 282.2 L302.0 286.5 M284.4 291.3 L303.8 295.8" stroke="#231f20" stroke-width="1" fill="none"/><path d="M267.4 284.0 L277.7 270.7 L282.6 270.1 L284.4 294.4 L272.2 310.8 Z" fill="#97989b" stroke="#231f20" stroke-width="0.8" stroke-linejoin="round"/><path d="M268.8 287.7 L279.3 274.7 L280.5 275.8 L269.9 289.3 Z" fill="#2e2b2c"/><path d="M267.7 285.3 L278.2 272.3 L279.3 274.7 L268.8 287.7 Z" fill="#bdbec0" stroke="#231f20" stroke-width="0.6"/><path d="M269.9 289.3 L280.5 275.8 L281.2 277.2 L270.5 290.7 Z" fill="#7d7e81"/><path d="M270.2 296.6 L281.0 283.4 L282.2 284.7 L271.4 298.3 Z" fill="#2e2b2c"/><path d="M269.1 294.1 L279.9 281.0 L281.0 283.4 L270.2 296.6 Z" fill="#bdbec0" stroke="#231f20" stroke-width="0.6"/><path d="M271.4 298.3 L282.2 284.7 L282.9 286.1 L272.0 299.7 Z" fill="#7d7e81"/><path d="M271.4 305.1 L282.7 292.2 L283.8 293.5 L272.7 306.8 Z" fill="#2e2b2c"/><path d="M270.3 302.6 L281.6 289.8 L282.7 292.2 L271.4 305.1 Z" fill="#bdbec0" stroke="#231f20" stroke-width="0.6"/><path d="M272.7 306.8 L283.8 293.5 L284.5 295.0 L273.3 308.2 Z" fill="#7d7e81"/><path d="M257.6 290.1 L264.3 283.4 L267.4 284.0 L272.2 310.8 L265.5 316.2 L260.1 305.3 L258.3 298.0 Z" fill="#b3b4b6" stroke="#231f20" stroke-width="1" stroke-linejoin="round"/><path d="M258.6 297.4 L263.5 292.6 L268.8 291.3 M260.3 305.3 L265.2 300.5 L270.5 300.2 M264.3 283.4 L263.5 292.6 L265.2 300.5 L269.8 315.6" fill="none" stroke="#231f20" stroke-width="0.9"/><circle cx="268.3" cy="291.0" r="1.1" fill="#231f20"/><circle cx="270.2" cy="300.2" r="1.1" fill="#231f20"/><circle cx="272.2" cy="309.2" r="1.1" fill="#231f20"/><path d="M272.2 310.8 L284.4 299.2 L302.6 305.9 L294.1 310.2 L289.2 317.5 L284.4 321.1 L269.8 315.6 L265.5 316.2 Z" fill="#9fa0a2" stroke="#231f20" stroke-width="0.9" stroke-linejoin="round"/><path d="M274.7 312.6 L285.0 302.9 L287.0 303.9 L277.1 314.1 Z M282.2 315.0 L290.5 306.5 L292.6 307.3 L284.4 316.5 Z" fill="#2e2b2c"/><path d="M286.6 317.5 L292.9 310.8 L295.9 309.6 L289.8 316.9 Z" fill="#4a4a4c"/><path d="M281.0 298.6 L299.2 305.1 L298.7 306.8 L280.5 300.5 Z" fill="#c2c3c5" stroke="#231f20" stroke-width="0.7"/>
<path d="M350.0 297.7 L358.8 286.4 L363.8 275.8 L371.9 268.9 L402.6 268.3 L404.5 270.8 L412.6 290.8 L395.1 321.5 L392.6 320.9 L370.0 315.8 L361.3 313.3 L354.4 302.1 Z" fill="#9b9c9e" stroke="#231f20" stroke-width="1.3" stroke-linejoin="round"/><path d="M350.0 297.7 L383.2 298.3 L392.8 320.9 L370.0 315.8 L361.3 313.3 L354.4 302.1 Z" fill="#8a8b8e" stroke="#231f20" stroke-width="0.9" stroke-linejoin="round"/><path d="M355.6 302.7 L367.5 303.3 L368.2 305.2 L356.9 304.8 Z M371.9 302.7 L383.8 303.3 L384.8 305.8 L372.8 305.2 Z M360.0 307.7 L366.9 308.3 L367.8 311.1 L361.9 310.8 Z M375.1 311.1 L386.3 312.1 L388.2 316.1 L377.8 315.1 Z" fill="#58595b" stroke="#231f20" stroke-width="0.7"/><path d="M367.5 303.3 L371.9 302.7 L377.8 315.1 L375.1 311.1 L370.0 312.1 L367.8 311.1 Z" fill="#a9aaac" stroke="#231f20" stroke-width="0.7"/><path d="M352.5 300.2 L384.4 301.1 M358.8 306.5 L387.6 308.6" fill="none" stroke="#231f20" stroke-width="0.8"/><path d="M383.2 298.3 L402.6 268.3 L404.5 270.8 L412.6 290.8 L395.1 321.5 L392.8 320.9 Z" fill="#a1a2a4" stroke="#231f20" stroke-width="0.9" stroke-linejoin="round"/><path d="M385.2 297.8 L389.9 290.6 L392.2 296.0 L387.5 303.2 Z" fill="#58595b" stroke="#231f20" stroke-width="0.7"/><path d="M387.2 297.0 L389.3 293.7 L390.4 296.2 L388.2 299.5 Z" fill="#97989b"/><path d="M391.0 288.8 L395.7 281.6 L398.0 287.0 L393.4 294.2 Z" fill="#58595b" stroke="#231f20" stroke-width="0.7"/><path d="M393.0 288.0 L395.1 284.7 L396.2 287.2 L394.0 290.5 Z" fill="#97989b"/><path d="M396.9 279.8 L401.5 272.5 L403.8 278.0 L399.2 285.2 Z" fill="#58595b" stroke="#231f20" stroke-width="0.7"/><path d="M398.8 279.0 L400.9 275.7 L402.0 278.2 L399.9 281.5 Z" fill="#97989b"/><path d="M388.1 304.5 L392.8 297.3 L395.1 302.7 L390.4 310.0 Z" fill="#58595b" stroke="#231f20" stroke-width="0.7"/><path d="M390.1 303.8 L392.2 300.5 L393.3 303.0 L391.1 306.3 Z" fill="#97989b"/><path d="M393.9 295.5 L398.6 288.3 L400.9 293.7 L396.3 300.9 Z" fill="#58595b" stroke="#231f20" stroke-width="0.7"/><path d="M395.9 294.8 L398.0 291.5 L399.1 294.0 L396.9 297.3 Z" fill="#97989b"/><path d="M399.8 286.5 L404.4 279.3 L406.7 284.7 L402.1 291.9 Z" fill="#58595b" stroke="#231f20" stroke-width="0.7"/><path d="M401.7 285.8 L403.8 282.5 L404.9 284.9 L402.8 288.2 Z" fill="#97989b"/><path d="M391.0 311.3 L395.7 304.1 L398.0 309.5 L393.3 316.7 Z" fill="#58595b" stroke="#231f20" stroke-width="0.7"/><path d="M392.9 310.6 L395.1 307.3 L396.1 309.7 L394.0 313.0 Z" fill="#97989b"/><path d="M396.8 302.3 L401.5 295.1 L403.8 300.5 L399.1 307.7 Z" fill="#58595b" stroke="#231f20" stroke-width="0.7"/><path d="M398.8 301.5 L400.9 298.2 L402.0 300.7 L399.8 304.0 Z" fill="#97989b"/><path d="M402.7 293.3 L407.3 286.1 L409.6 291.5 L405.0 298.7 Z" fill="#58595b" stroke="#231f20" stroke-width="0.7"/><path d="M404.6 292.5 L406.7 289.2 L407.8 291.7 L405.7 295.0 Z" fill="#97989b"/><path d="M386.9 305.5 L405.2 277.2 M389.8 312.3 L408.0 284.0" stroke="#231f20" stroke-width="0.9" fill="none"/><path d="M350.0 297.7 L358.8 286.4 L363.8 275.8 L371.9 268.9 L402.6 268.3 L383.2 298.3 Z" fill="#a9aaac" stroke="#231f20" stroke-width="0.9" stroke-linejoin="round"/><path d="M357.5 287.7 L368.2 273.9 L370.7 274.5 L360.0 288.9 Z" fill="#8a8b8e" stroke="#231f20" stroke-width="0.8"/><path d="M375.1 271.4 L379.1 271.4 L378.3 274.8 L375.1 278.3 L376.6 280.8 L369.8 288.9 L363.8 288.9 L359.8 294.8" fill="none" stroke="#231f20" stroke-width="1"/><path d="M382.6 269.8 L379.8 274.5 L381.9 276.8 L375.1 286.4" fill="none" stroke="#231f20" stroke-width="0.8"/><path d="M386.9 272.3 L400.1 272.3 L398.6 274.5 L385.3 274.5 Z M383.6 278.9 L395.7 278.9 L394.1 281.4 L381.9 281.4 Z M380.1 285.2 L391.1 285.2 L389.5 287.7 L378.6 287.7 Z" fill="#c7c8ca" stroke="#231f20" stroke-width="0.8"/><path d="M385.3 274.5 L398.6 274.5 L398.1 275.5 L384.8 275.5 Z M381.9 281.4 L394.1 281.4 L393.6 282.4 L381.4 282.4 Z M378.6 287.7 L389.5 287.7 L389.0 288.7 L378.1 288.7 Z" fill="#3b393a"/><path d="M370.7 290.8 L382.6 291.4 L380.3 295.6 L369.0 294.8 Z" fill="#c7c8ca" stroke="#231f20" stroke-width="0.8"/><path d="M363.8 288.9 L369.8 288.9 L365.7 294.8 L359.8 294.8 Z" fill="#97989b" stroke="#231f20" stroke-width="0.6"/>
<path d="M229.6 448.6 L280.2 448.6 L280.2 470.2 L276.3 473.6 L231.9 473.6 L229.6 470.2 Z" fill="#c4c5c7" stroke="#231f20" stroke-width="1.1" stroke-linejoin="round"/><path d="M229.6 448.6 L236.4 449.7 L236.4 468.4 L231.9 473.6 L229.6 470.2 Z" fill="#a9aaac" stroke="#231f20" stroke-width="0.8" stroke-linejoin="round"/><path d="M236.4 468.4 L249.0 468.4 L249.0 466.8 L264.9 466.8 L264.9 468.4 L277.0 468.4 L277.0 449.7" fill="none" stroke="#231f20" stroke-width="0.9"/><path d="M231.9 473.6 L236.4 468.4 M276.3 473.6 L277.0 468.4" fill="none" stroke="#231f20" stroke-width="0.8"/><path d="M236.4 470.2 L276.3 470.2 L275.9 473.0 L233.0 473.0 Z" fill="#e3e4e5"/><path d="M221.6 398.5 L230.8 387.8 L231.9 448.6 L221.6 454.3 Z" fill="#656668" stroke="#231f20" stroke-width="1.1" stroke-linejoin="round"/><path d="M230.8 387.8 L284.3 393.5 L287.7 448.6 L231.9 448.6 Z" fill="#6b6c6e" stroke="#231f20" stroke-width="1.1" stroke-linejoin="round"/><path d="M221.6 454.3 L231.9 448.6 L287.7 448.6 L280.2 451.3 L229.6 451.3 Z" fill="#77787b" stroke="#231f20" stroke-width="0.9" stroke-linejoin="round"/><path d="M223.0 399.2 L231.4 389.6 L232.6 447.4" stroke="#b1b2b4" stroke-width="0.8" fill="none"/><path d="M231.9 389.4 L283.4 394.8 L286.3 447.4 L232.6 447.4" stroke="#97989b" stroke-width="0.7" fill="none"/>
<path d="M400.4 434.5 L405.1 435.5 L405.7 439.8 L401.3 442.1 Z" fill="#9b9c9e" stroke="#231f20" stroke-width="0.9" stroke-linejoin="round"/><path d="M408.9 437.4 L415.5 438.7 L415.5 444.0 L410.2 447.8 Z" fill="#9b9c9e" stroke="#231f20" stroke-width="0.9" stroke-linejoin="round"/><path d="M411.4 440.6 L414.0 441.2 L414.0 444.4 L411.4 446.3 Z" fill="#c7c8ca" stroke="#231f20" stroke-width="0.5"/><path d="M422.2 436.8 L426.9 435.5 L426.9 438.7 L423.1 440.6 Z" fill="#77787b" stroke="#231f20" stroke-width="0.8" stroke-linejoin="round"/><path d="M427.9 436.4 L434.5 433.6 L434.5 443.1 L428.8 447.4 Z" fill="#9b9c9e" stroke="#231f20" stroke-width="0.9" stroke-linejoin="round"/><ellipse cx="431.1" cy="439.8" rx="1.1" ry="1.8" fill="#c7c8ca" stroke="#231f20" stroke-width="0.7"/><path d="M390.9 408.0 L392.8 406.4 L419.7 412.1 L420.5 439.3 L418.4 438.7 L393.1 435.5 L391.3 433.6 Z" fill="#b3b4b6" stroke="#231f20" stroke-width="1.1" stroke-linejoin="round"/><path d="M419.7 412.1 L440.6 404.2 L441.7 406.1 L441.3 430.7 L420.5 439.3 Z" fill="#a3a4a6" stroke="#231f20" stroke-width="1.1" stroke-linejoin="round"/><path d="M419.7 412.1 L422.4 412.9 L422.8 438.3 L420.5 439.3 Z" fill="#87888b" stroke="#231f20" stroke-width="0.6"/><path d="M391.3 407.2 L412.7 400.0 L419.0 399.4 L420.9 400.4 L426.9 400.4 L440.6 404.2 L419.7 412.5 Z" fill="#a9aaac" stroke="#231f20" stroke-width="1.1" stroke-linejoin="round"/><path d="M393.1 408.0 L418.4 413.3" stroke="#231f20" stroke-width="1.6" fill="none"/><path d="M418.6 414.8 L419.1 437.9" stroke="#e3e4e5" stroke-width="0.8" fill="none"/><path d="M419.0 399.4 L419.7 400.7 L430.3 402.3" stroke="#231f20" stroke-width="1.2" fill="none"/><text x="398.1" y="434.1" font-size="5.6" font-weight="bold" fill="#4d5a70" transform="rotate(7 398.1 434.1)" letter-spacing="0.5">12V</text>
<path d="M43.5 463.8 L43.0 449.8 L46.4 441.6 L47.0 433.7 Q48.4 430.9 50.9 429.7 Q56.6 427.6 63.5 427.3 Q71.4 426.8 78.3 428.0 Q83.9 429.6 87.4 432.5 Q91.7 435.9 93.7 440.5 L93.2 445.3 Q95.1 447.3 95.3 449.8 L94.9 461.9 Q91.3 466.7 85.1 468.9 Q73.7 471.8 62.9 471.9 Z" fill="#97989b" stroke="#231f20" stroke-width="1.2" stroke-linejoin="round"/><path d="M47.0 433.7 L50.9 434.3 Q60.0 437.1 69.1 438.9 L80.5 440.6 L93.7 440.5 L93.2 445.3 L80.5 446.4 L69.1 444.6 Q60.0 442.8 52.1 440.5 L49.6 442.8 L46.4 441.6 Z" fill="#8a8b8e" stroke="#231f20" stroke-width="0.9" stroke-linejoin="round"/><path d="M47.0 433.7 Q48.4 430.9 50.9 429.7 Q56.6 427.6 63.5 427.3 Q71.4 426.8 78.3 428.0 Q83.9 429.6 87.4 432.5 Q91.7 435.9 93.7 440.5 L80.5 440.6 L69.1 438.9 Q60.0 437.1 50.9 434.3 Z" fill="#a3a4a6" stroke="#231f20" stroke-width="0.9" stroke-linejoin="round"/><ellipse cx="70.1" cy="431.7" rx="8.5" ry="2.9" fill="#aeafb1" stroke="#231f20" stroke-width="0.9"/><path d="M80.5 440.6 L80.5 446.4 M50.9 429.8 Q49.6 432.0 50.9 434.3 L52.1 440.5" fill="none" stroke="#231f20" stroke-width="0.7"/><path d="M62.9 471.9 L62.3 458.7 L78.3 459.3 L77.3 448.5" fill="none" stroke="#231f20" stroke-width="0.9"/><path d="M50.4 446.7 Q59.5 449.4 62.3 458.7" fill="none" stroke="#231f20" stroke-width="0.9"/><path d="M46.4 441.6 L45.2 449.8 L49.8 453.6 L50.4 446.7 L49.6 442.8 Z" fill="#b9babc" stroke="#231f20" stroke-width="0.8" stroke-linejoin="round"/><path d="M78.8 453.0 L91.9 451.9 L94.2 454.1 L79.4 458.7 Z" fill="#b1b2b4" stroke="#231f20" stroke-width="0.8" stroke-linejoin="round"/><path d="M77.3 448.5 L80.0 446.9 L78.8 453.0 L79.4 458.7 L78.3 459.3 Z" fill="#77787b" stroke="#231f20" stroke-width="0.7" stroke-linejoin="round"/>
<path d="M111.3 461.9 C114.5 461.2 119.4 460.6 123.4 460.5 C127.5 460.5 131.6 460.7 135.6 461.6 C139.5 462.5 144.4 463.9 146.9 466.1 C149.5 468.4 150.5 472.0 150.7 475.3 C151.0 478.5 150.0 482.6 148.5 485.4 C146.9 488.2 144.2 490.2 141.3 492.1 C138.4 494.0 134.7 495.6 131.0 496.7 C127.3 497.8 122.7 498.9 119.2 498.6 C115.6 498.4 112.7 496.6 109.7 495.1 C106.8 493.7 103.7 491.5 101.4 489.7 C99.1 487.9 97.0 486.4 95.8 484.4 C94.5 482.3 93.6 479.8 93.8 477.2 C94.0 474.7 95.2 471.3 96.8 469.2 C98.5 467.1 101.3 465.8 103.7 464.6 C106.1 463.4 108.0 462.6 111.3 461.9 Z" fill="#77787b" stroke="#231f20" stroke-width="1.1"/><path d="M111.3 460.7 C114.5 460.0 119.4 459.4 123.4 459.3 C127.5 459.3 131.6 459.4 135.6 460.4 C139.5 461.3 144.4 462.7 146.9 464.9 C149.5 467.2 150.5 470.8 150.7 474.0 C151.0 477.3 150.0 481.4 148.5 484.2 C146.9 487.0 144.2 489.0 141.3 490.9 C138.4 492.8 134.7 494.4 131.0 495.5 C127.3 496.5 122.7 497.7 119.2 497.4 C115.6 497.2 112.7 495.4 109.7 493.9 C106.8 492.4 103.7 490.3 101.4 488.5 C99.1 486.7 97.0 485.2 95.8 483.2 C94.5 481.1 93.6 478.5 93.8 476.0 C94.0 473.5 95.2 470.1 96.8 468.0 C98.5 465.9 101.3 464.6 103.7 463.4 C106.1 462.2 108.0 461.4 111.3 460.7 Z" fill="#a6a7a9" stroke="#231f20" stroke-width="0.8"/><ellipse cx="107.0" cy="467.5" rx="1.5" ry="1.1" fill="#3b393a"/><ellipse cx="140.1" cy="468.3" rx="1.5" ry="1.1" fill="#3b393a"/><ellipse cx="119.9" cy="490.3" rx="1.5" ry="1.1" fill="#3b393a"/><ellipse cx="122.6" cy="480.0" rx="14.0" ry="6.1" fill="#58595b" stroke="#231f20" stroke-width="0.7"/><ellipse cx="122.6" cy="478.4" rx="14.0" ry="6.1" fill="#8a8b8e" stroke="#231f20" stroke-width="0.8"/><ellipse cx="122.6" cy="474.9" rx="13.4" ry="5.8" fill="#58595b" stroke="#231f20" stroke-width="0.7"/><ellipse cx="122.6" cy="473.3" rx="13.4" ry="5.8" fill="#a3a4a6" stroke="#231f20" stroke-width="0.8"/><ellipse cx="122.6" cy="467.3" rx="12.8" ry="5.3" fill="#58595b" stroke="#231f20" stroke-width="0.7"/><ellipse cx="122.6" cy="465.7" rx="12.8" ry="5.3" fill="#a3a4a6" stroke="#231f20" stroke-width="0.8"/><ellipse cx="122.6" cy="459.7" rx="11.5" ry="5.0" fill="#58595b" stroke="#231f20" stroke-width="0.7"/><ellipse cx="122.6" cy="458.1" rx="11.5" ry="5.0" fill="#a3a4a6" stroke="#231f20" stroke-width="0.8"/><path d="M120.1 435.9 L114.7 455.4 Q123.9 461.1 133.1 456.1 L131.9 436.8 Z" fill="#aeafb1" stroke="#231f20" stroke-width="0.9" stroke-linejoin="round"/><ellipse cx="126.0" cy="435.9" rx="6" ry="3.4" fill="#97989b" stroke="#231f20" stroke-width="0.9"/><ellipse cx="126.0" cy="436.2" rx="3.4" ry="1.9" fill="#d0d1d3" stroke="#231f20" stroke-width="0.8"/>
<path d="M40.0 497.7 C42.0 491.7 54.7 487.0 72.0 488.0 C84.1 489.7 96.1 496.4 98.2 502.8 C98.1 507.7 82.7 513.7 70.7 514.1 C58.7 513.7 40.0 506.4 40.0 497.7 Z" fill="#8a8b8e" stroke="#231f20" stroke-width="1.1"/><path d="M43.0 496.8 C46.7 491.0 58.7 488.4 72.0 489.4 C82.7 491.0 94.7 497.0 96.3 502.1 C95.4 505.0 81.4 509.0 70.7 509.4 C60.0 509.0 45.4 503.7 43.0 496.8 Z" fill="#a6a7a9" stroke="#231f20" stroke-width="0.8"/><path d="M29.6 479.9 Q29.3 476.3 33.1 474.9 Q35.7 474.1 37.3 474.9 Q39.7 473.5 42.2 475.4 Q44.8 474.3 47.5 476.5 Q50.4 475.9 52.8 478.1 Q58.0 479.4 60.7 483.0 Q63.0 485.7 62.7 493.3 L59.1 492.0 Q59.5 487.4 56.7 486.4 Q53.6 486.4 52.8 491.0 L52.3 496.5 L46.2 496.0 Q44.3 493.6 43.0 493.6 Q40.0 492.8 38.7 491.7 Q35.7 490.4 34.4 488.0 Q33.1 486.4 33.3 485.0 Q30.4 483.7 29.6 479.9 Z" fill="#97989b" stroke="#231f20" stroke-width="1.1" stroke-linejoin="round"/><path d="M37.3 474.9 Q33.9 481.0 34.9 488.5 M42.2 475.4 Q38.1 483.0 39.5 492.2 M47.5 476.5 Q43.2 484.3 44.6 494.1 M52.8 478.1 Q48.3 485.0 48.6 496.0" fill="none" stroke="#3b393a" stroke-width="1.4"/><path d="M38.9 474.6 Q35.7 481.7 37.1 489.8 M44.3 475.7 Q40.3 483.7 41.6 493.0 M49.6 477.0 Q45.6 484.7 46.4 495.4" fill="none" stroke="#bdbec0" stroke-width="1"/><path d="M52.3 496.5 L52.8 490.4 Q54.0 483.9 58.0 485.0 Q61.1 487.0 60.3 492.5" fill="none" stroke="#231f20" stroke-width="0.9"/>
<path d="M551 444.3 L395.5 504.1 L366 518.6 Q363 520.6 365.2 522.2 Q367 523.2 369 522.6 L398.3 513 L559.5 450.9 Z" fill="#b3b4b6" stroke="#231f20" stroke-width="1.1" stroke-linejoin="round"/><path d="M551.5 446 L396.5 505.7 L367 519.8" fill="none" stroke="#231f20" stroke-width="0.6"/><path d="M368.5 518.6 L370.1 521.8 M371.4 517.2 L373.0 520.8 M374.3 515.8 L375.9 519.9 M377.2 514.3 L378.8 518.9 M380.1 512.9 L381.7 517.9 M383.0 511.5 L384.6 517.0 M385.9 510.1 L387.5 516.0 M388.8 508.7 L390.4 515.0 M391.7 507.2 L393.3 514.0 M394.6 505.8 L396.2 513.1 " stroke="#231f20" stroke-width="0.8" fill="none"/><path d="M396.5 505 L399.6 512.4" stroke="#231f20" stroke-width="0.8" fill="none"/><path d="M550.1 441.7 L558.0 435.1 L566.4 432.2 L576.8 442.6 L575.9 448.3 L564.6 456.7 L560.8 455.8 Z" fill="#a6a7a9" stroke="#231f20" stroke-width="1.1" stroke-linejoin="round"/><path d="M558.0 435.1 L566.4 432.2 L576.8 442.6 L565.9 446.0 Z" fill="#b9babc" stroke="#231f20" stroke-width="0.8" stroke-linejoin="round"/><path d="M565.9 446.0 L576.8 442.6 L575.9 448.3 L564.6 456.7 Z" fill="#c4c5c7" stroke="#231f20" stroke-width="0.8" stroke-linejoin="round"/><path d="M561.7 437.3 L566.4 435.1 L572.7 441.9 L568.9 444.1 Z" fill="#58595b" stroke="#231f20" stroke-width="0.8" stroke-linejoin="round"/><path d="M564.2 438.5 L566.1 437.5 L570.2 442.2 L568.9 443.0 Z" fill="#d9dadb"/>
<path d="M572.4 443.4 L594 435.1 L594 443.8 Z" fill="#231f20"/>
<rect x="593.9" y="430.5" width="31" height="16.7" fill="#fff" stroke="#231f20" stroke-width="1.1"/><text x="609.30" y="443.90" font-size="15.4" text-anchor="middle" fill="#231f20" letter-spacing="0.7">15x</text>
</svg>
</body></html>
